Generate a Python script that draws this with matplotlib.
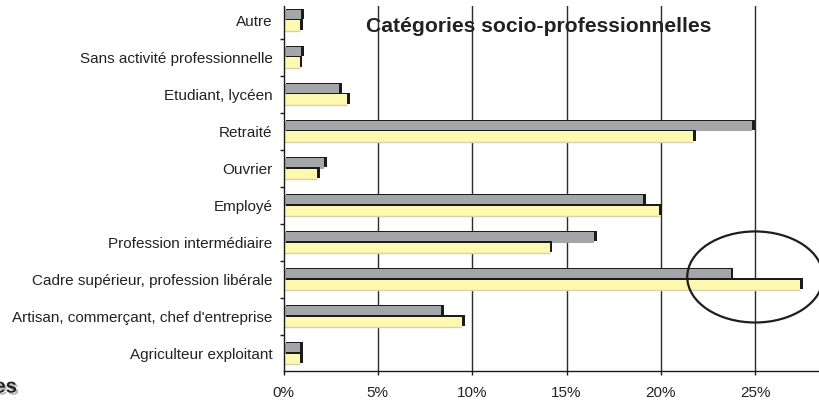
import matplotlib
matplotlib.use("Agg")
import matplotlib.pyplot as plt
import numpy as np
from matplotlib.patches import Ellipse
from matplotlib import patheffects
from matplotlib.ticker import FixedLocator, PercentFormatter

plt.rcParams['font.family'] = ['Liberation Sans', 'DejaVu Sans']

# Categories from bottom to top
categories = [
    "Agriculteur exploitant",
    "Artisan, commerçant, chef d'entreprise",
    "Cadre supérieur, profession libérale",
    "Profession intermédiaire",
    "Employé",
    "Ouvrier",
    "Retraité",
    "Etudiant, lycéen",
    "Sans activité professionnelle",
    "Autre",
]
# Share of each category (%), two series
series_grey = [0.9, 8.35, 23.7, 16.45, 19.05, 2.15, 24.85, 2.95, 0.95, 0.95]
series_yellow = [0.9, 9.45, 27.4, 14.1, 19.9, 1.8, 21.7, 3.35, 0.85, 0.9]
x_ticks = [0, 5, 10, 15, 20, 25]
title = "Catégories socio-professionnelles"
highlight = "Cadre supérieur, profession libérale"

W, H, DPI = 819, 403, 100
fig = plt.figure(figsize=(W / DPI, H / DPI), dpi=DPI)
ax = fig.add_axes([283.5 / W, 32 / H, 566 / W, 365 / H])

y = np.arange(len(categories))
h = 0.29
grey = "#a4a7a9"
yellow = "#fff8b0"
shadow = "#1c1c1c"
dx, dy = 0.15, 0.03  # shadow offset in data units

ax.set_xlim(0, 30)
ax.set_ylim(-0.47, 9.39)

for x in x_ticks[1:]:
    ax.axvline(x, color="#2b2b2b", lw=1.0, zorder=1)

# each series: offset dark shadow, then the fill on top
ax.barh(y + h / 2 + dy, series_grey, height=h, left=dx, color=shadow, zorder=2)
ax.barh(y + h / 2, series_grey, height=h, color=grey, zorder=3)
ax.barh(y - h / 2 + dy, series_yellow, height=h, left=dx, color=shadow, zorder=4)
ax.barh(y - h / 2, series_yellow, height=h, color=yellow, zorder=5)
ax.hlines(y - h, 0, series_yellow, color="#d6d2ae", lw=1.0, zorder=5.5)

# highlight ellipse
hi = categories.index(highlight)
ax.add_patch(Ellipse((25.0, hi + 0.07), width=7.2, height=2.46, fill=False,
                     edgecolor="#1e1e1e", lw=1.6, zorder=7, clip_on=False))

ax.spines["top"].set_visible(False)
ax.spines["right"].set_visible(False)
for s in ("left", "bottom"):
    ax.spines[s].set_color("#1a1a1a")
    ax.spines[s].set_linewidth(1.0)
    ax.spines[s].set_zorder(6)

ax.set_xticks(x_ticks)
ax.xaxis.set_major_formatter(PercentFormatter(decimals=0))
ax.tick_params(axis="x", length=3, width=1, color="#1a1a1a", pad=7.5,
               labelsize=11, labelcolor="#222222")

ax.set_yticks(y)
ax.set_yticklabels(categories)
ax.yaxis.set_minor_locator(FixedLocator(np.arange(0.5, len(categories) - 1, 1.0)))
ax.tick_params(axis="y", which="major", length=0, pad=8, labelsize=11,
               labelcolor="#222222")
ax.tick_params(axis="y", which="minor", length=3, width=1, color="#1a1a1a")

fig.text(539 / W, 1 - 26 / H, title, ha="center", va="center",
         fontsize=15.2, fontweight="bold", color="#222222")

fig.text(17 / W, 1 - 387 / H, "es", ha="right", va="center", fontsize=14.5,
         fontweight="bold", color="#222222",
         path_effects=[patheffects.SimplePatchShadow(offset=(1.5, -1.5),
                                                     shadow_rgbFace="#888888",
                                                     alpha=0.6),
                       patheffects.Normal()])

fig.savefig("out.png", dpi=DPI)
